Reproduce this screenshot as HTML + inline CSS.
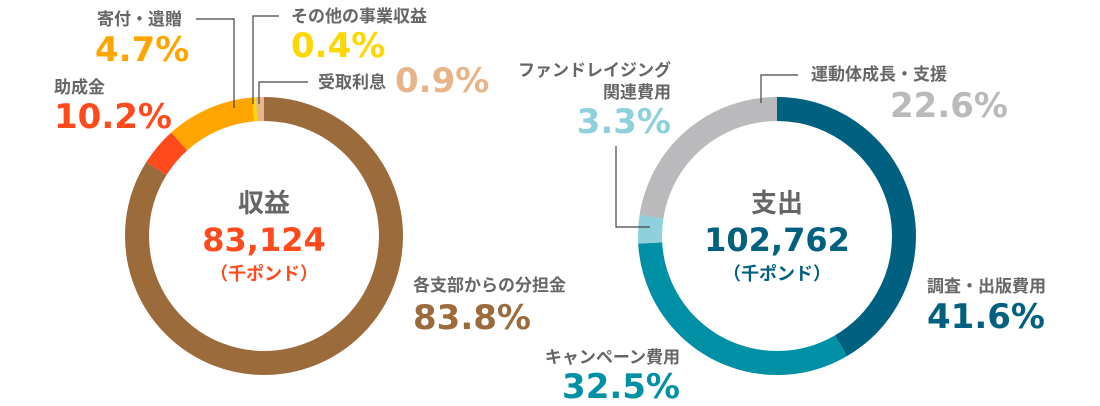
<!DOCTYPE html>
<html><head><meta charset="utf-8"><style>
html,body{margin:0;padding:0;background:#fff;}
svg{display:block;}
.l{font-family:"Liberation Sans","Noto Sans CJK JP",sans-serif;font-weight:bold;font-size:17px;fill:#666;}
.p{font-family:"DejaVu Sans","Liberation Sans",sans-serif;font-weight:bold;font-size:34px;}
.c{font-family:"Liberation Sans","Noto Sans CJK JP",sans-serif;font-weight:bold;}
</style></head><body>
<svg width="1100" height="406" viewBox="0 0 1100 406" xmlns="http://www.w3.org/2000/svg">
<g fill="none" stroke-width="24" transform="rotate(-90 264 236)">
<circle cx="264" cy="236" r="127" stroke="#9b6b3c" stroke-dasharray="669.4 1000" stroke-dashoffset="0"/>
<circle cx="264" cy="236" r="127" stroke="#ff4a1c" stroke-dasharray="35.5 1000" stroke-dashoffset="-669.4"/>
<circle cx="264" cy="236" r="127" stroke="#ffa500" stroke-dasharray="82 1000" stroke-dashoffset="-704.9"/>
<circle cx="264" cy="236" r="127" stroke="#ffd700" stroke-dasharray="3.3 1000" stroke-dashoffset="-786.9"/>
<circle cx="264" cy="236" r="127" stroke="#e8b48a" stroke-dasharray="7.8 1000" stroke-dashoffset="-790.2"/>
</g>
<g fill="none" stroke-width="24" transform="rotate(-90 777 236)">
<circle cx="777" cy="236" r="127" stroke="#006080" stroke-dasharray="331.8 1000" stroke-dashoffset="0"/>
<circle cx="777" cy="236" r="127" stroke="#0090a5" stroke-dasharray="259.4 1000" stroke-dashoffset="-331.8"/>
<circle cx="777" cy="236" r="127" stroke="#8ed1dd" stroke-dasharray="26.4 1000" stroke-dashoffset="-591.2"/>
<circle cx="777" cy="236" r="127" stroke="#bab9bc" stroke-dasharray="180.5 1000" stroke-dashoffset="-617.5"/>
</g>
<g fill="none" stroke="#444" stroke-width="1.2">
<polyline points="196,19 234,19 234,108"/>
<polyline points="279,16 253,16 253,104"/>
<polyline points="308,82 259,82 259,104"/>
<polyline points="798,75 761,75 761,103"/>
<polyline points="616,146 616,227 650,227"/>
</g>
<text class="l" x="97" y="25">寄付・遺贈</text>
<text class="p" x="95" y="61" fill="#ffa500">4.7%</text>
<text class="l" x="291" y="22">その他の事業収益</text>
<text class="p" x="291" y="57" fill="#ffd700">0.4%</text>
<text class="l" x="318" y="88">受取利息</text>
<text class="p" x="395" y="92" fill="#e8b48a">0.9%</text>
<text class="l" x="54" y="93">助成金</text>
<text class="p" x="54" y="128" fill="#ff4a1c">10.2%</text>
<text class="c" x="264" y="212" font-size="26" fill="#666" text-anchor="middle">収益</text>
<text class="p" x="264" y="251" fill="#ff4a1c" text-anchor="middle" style="font-size:32px">83,124</text>
<text class="c" x="264" y="280" font-size="18" fill="#ff4a1c" text-anchor="middle">（千ポンド）</text>
<text class="l" x="413" y="291">各支部からの分担金</text>
<text class="p" x="413" y="329" fill="#9b6b3c">83.8%</text>
<text class="l" x="671" y="76" text-anchor="end">ファンドレイジング</text>
<text class="l" x="671" y="98" text-anchor="end">関連費用</text>
<text class="p" x="671" y="133" fill="#8ed1dd" text-anchor="end">3.3%</text>
<text class="l" x="811" y="80">運動体成長・支援</text>
<text class="p" x="890" y="117" fill="#bab9bc">22.6%</text>
<text class="c" x="777" y="212" font-size="26" fill="#666" text-anchor="middle">支出</text>
<text class="p" x="777" y="251" fill="#006080" text-anchor="middle" style="font-size:32px">102,762</text>
<text class="c" x="777" y="280" font-size="18" fill="#006080" text-anchor="middle">（千ポンド）</text>
<text class="l" x="927" y="292">調査・出版費用</text>
<text class="p" x="927" y="328" fill="#006080">41.6%</text>
<text class="l" x="680" y="363" text-anchor="end">キャンペーン費用</text>
<text class="p" x="680" y="398" fill="#0090a5" text-anchor="end">32.5%</text>
</svg>
</body></html>
